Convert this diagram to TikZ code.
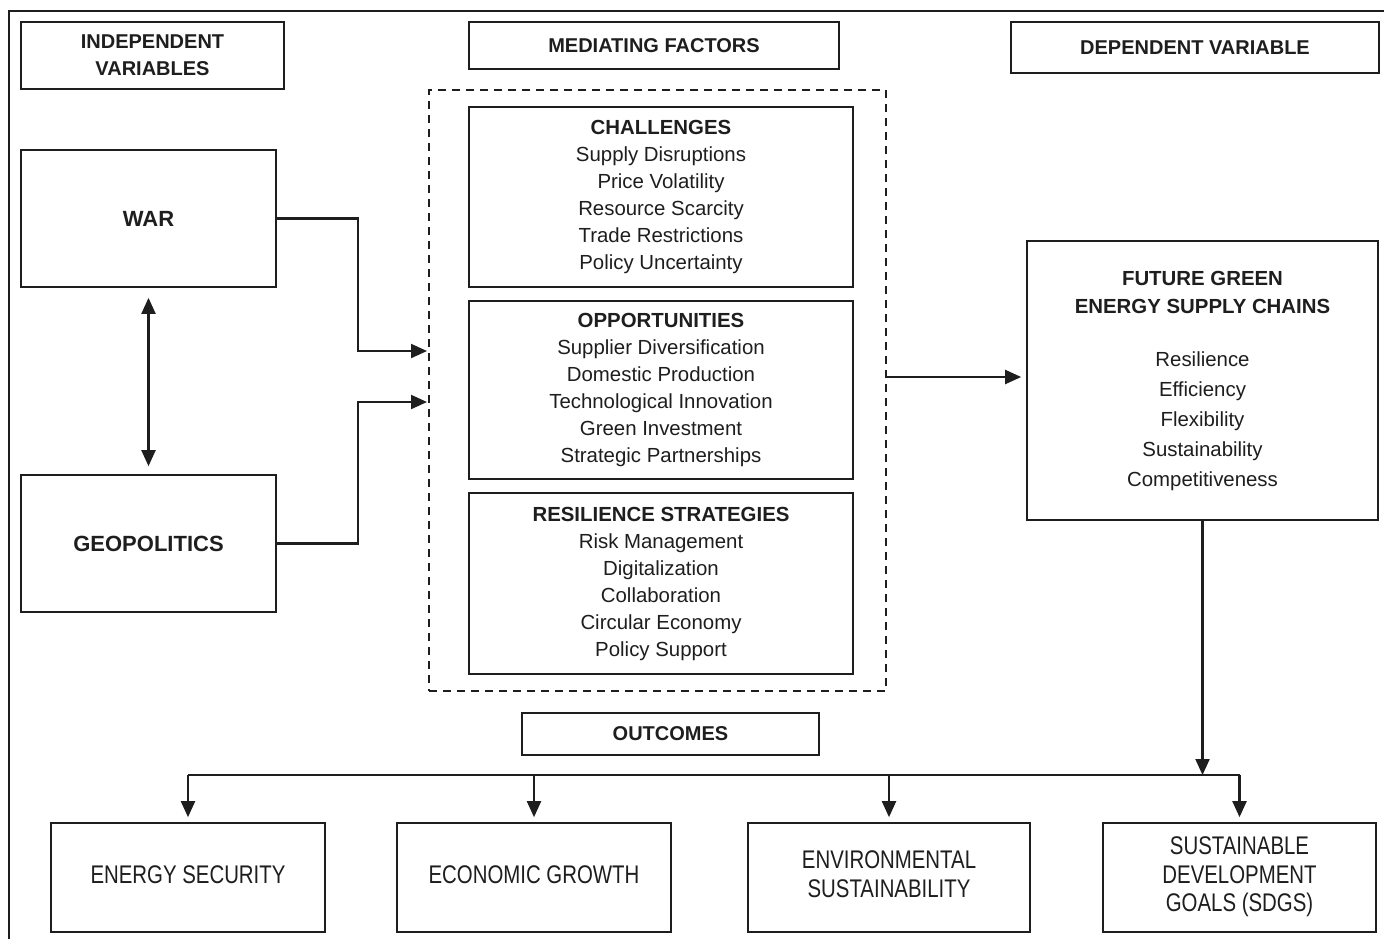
\documentclass[tikz,border=0pt]{standalone}
\usepackage{fontspec}
\setmainfont{Liberation Sans}
\usepackage{graphicx}
\usetikzlibrary{arrows.meta}
\definecolor{ink}{HTML}{1E1E1E}
\tikzset{every picture/.style={x=0.5pt,y=-0.5pt,>={Triangle[length=8pt,width=7pt]}}}
\tikzset{
  box/.style={draw=ink, line width=0.85pt, inner sep=0pt, align=center, text=ink},
  hdr/.style={box, font=\fontsize{10}{13.5}\selectfont\bfseries},
  medbox/.style={box, font=\fontsize{10.2}{13.5}\selectfont, minimum width=192pt},
  outbox/.style={box, minimum width=137pt, minimum height=54.5pt},
  arr/.style={->, draw=ink, line width=1.05pt},
}
\newcommand{\tallcaps}[1]{\scalebox{1}[1.25]{\fontsize{10.2}{11.4}\selectfont\begin{tabular}{@{}c@{}}#1\end{tabular}}}

\begin{document}
\begin{tikzpicture}
    \fill[white] (0,0) rectangle (1384,939);
    \useasboundingbox (0,0) rectangle (1384,939);
    % frame
    \draw[ink, line width=1pt] (1384,11) -- (9,11) -- (9,939);

    % headers
    \node[hdr, minimum width=131.5pt, minimum height=33.5pt] (indep) at (152.5,55.5) {INDEPENDENT\\VARIABLES};
    \node[hdr, minimum width=185pt, minimum height=23.5pt] (medhdr) at (654,45.5) {MEDIATING FACTORS};
    \node[hdr, minimum width=184pt, minimum height=25.5pt] (dephdr) at (1195,47.5) {DEPENDENT VARIABLE};

    % independent variables
    \node[hdr, font=\fontsize{11}{13}\selectfont\bfseries, minimum width=127.5pt, minimum height=68.5pt] (war) at (148.5,218.5) {WAR};
    \node[hdr, font=\fontsize{11}{13}\selectfont\bfseries, minimum width=127.5pt, minimum height=68.5pt] (geo) at (148.5,543.5) {GEOPOLITICS};

    % mediating factors
    \node[draw=ink, line width=0.85pt, dash pattern=on 4pt off 3pt, inner sep=0pt,
          minimum width=228.5pt, minimum height=300.5pt] (med) at (657.5,390.5) {};
    \node[medbox, minimum height=90pt] (chal) at (661,197)
      {\textbf{CHALLENGES}\\Supply Disruptions\\Price Volatility\\Resource Scarcity\\Trade Restrictions\\Policy Uncertainty};
    \node[medbox, minimum height=89pt] (opp) at (661,390)
      {\textbf{OPPORTUNITIES}\\Supplier Diversification\\Domestic Production\\Technological Innovation\\Green Investment\\Strategic Partnerships};
    \node[medbox, minimum height=90.5pt] (res) at (661,583.5)
      {\textbf{RESILIENCE STRATEGIES}\\Risk Management\\Digitalization\\Collaboration\\Circular Economy\\Policy Support};

    % dependent variable
    \node[box, font=\fontsize{10.2}{14}\selectfont, minimum width=175.5pt, minimum height=139.5pt] (fut) at (1202.5,380.5)
      {\textbf{FUTURE GREEN}\\\textbf{ENERGY SUPPLY CHAINS}\\[12.5pt]Resilience\\[1pt]Efficiency\\[1pt]Flexibility\\[1pt]Sustainability\\[1pt]Competitiveness};

    % outcomes
    \node[hdr, minimum width=148.5pt, minimum height=21pt] (outc) at (670.5,734) {OUTCOMES};
    \node[outbox] (es) at (188,877.5) {\tallcaps{ENERGY SECURITY}};
    \node[outbox] (eg) at (534,877.5) {\tallcaps{ECONOMIC GROWTH}};
    \node[outbox, minimum width=141pt] (env) at (889,877.5) {\tallcaps{ENVIRONMENTAL\\SUSTAINABILITY}};
    \node[outbox, minimum width=136.5pt] (sdg) at (1239.5,877.5) {\tallcaps{SUSTAINABLE\\DEVELOPMENT\\GOALS (SDGS)}};

    % connectors
    \coordinate (warin) at (429,351);
    \coordinate (geoin) at (429,402);
    \coordinate (medout) at (886,377);
    \coordinate (bus) at (0,775);
    \draw[<->, draw=ink, line width=1.05pt, shorten <=5pt, shorten >=4pt] (war.south) -- (geo.north);
    \draw[arr, shorten >=1pt] (war.east) -- ++(81,0) |- (warin);
    \draw[arr, shorten >=1pt] (geo.east) -- ++(81,0) |- (geoin);
    \draw[arr, shorten >=2.5pt] (medout) -- (medout -| fut.west);
    \draw[arr] (fut.south) -- (fut.south |- bus);
    \draw[ink, line width=1.05pt] (es.north |- bus) -- (sdg.north |- bus);
    \foreach \n in {es,eg,env,sdg}
      \draw[arr, shorten >=2.5pt] (\n.north |- bus) -- (\n.north);
\end{tikzpicture}
\end{document}
